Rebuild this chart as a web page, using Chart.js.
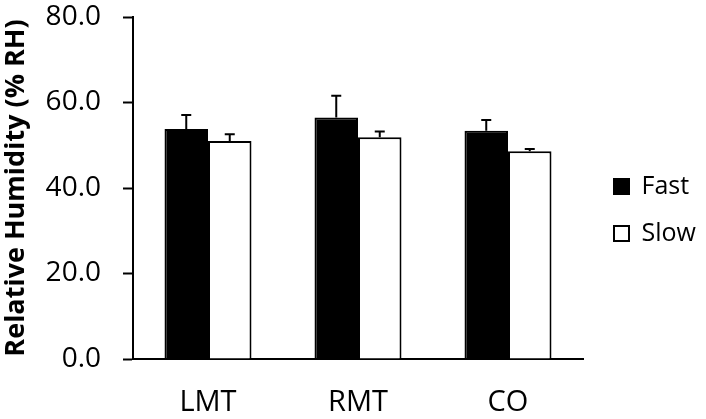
<!DOCTYPE html>
<html>
<head>
<meta charset="utf-8">
<script src="https://cdn.jsdelivr.net/npm/chart.js@4"></script>
<style>
  body { margin: 0; background: #fff; }
  #wrap { width: 706px; height: 419px; }
</style>
</head>
<body>
<div id="wrap"><canvas id="myChart" width="706" height="419"></canvas></div>
<script>
const categories = ["LMT", "RMT", "CO"];
const fastValues = [53.8, 56.5, 53.4];
const fastErrors = [3.3, 5.1, 2.5];
const slowValues = [51.0, 51.9, 48.6];
const slowErrors = [1.6, 1.3, 0.5];
const yTicks = [0, 20, 40, 60, 80];

const FONT = "'Open Sans', 'Noto Sans', sans-serif";

// draws the upper half of each error bar with a small cap
const errorBars = {
  id: "errorBars",
  afterDatasetsDraw(chart) {
    const ctx = chart.ctx;
    const y = chart.scales.y;
    chart.data.datasets.forEach((ds, i) => {
      const meta = chart.getDatasetMeta(i);
      meta.data.forEach((bar, j) => {
        const top = y.getPixelForValue(ds.data[j] + ds.errors[j]);
        ctx.save();
        ctx.strokeStyle = "#000";
        ctx.lineWidth = 2;
        ctx.beginPath();
        ctx.moveTo(bar.x, bar.y);
        ctx.lineTo(bar.x, top);
        ctx.moveTo(bar.x - 5, top);
        ctx.lineTo(bar.x + 5, top);
        ctx.stroke();
        ctx.restore();
      });
    });
  },
};

// keep the plot area the same width as the original
const legendSize = {
  id: "legendSize",
  afterInit(chart) {
    const legend = chart.legend;
    const fit = legend.fit.bind(legend);
    legend.fit = () => {
      fit();
      legend.width = 123;
    };
  },
  afterLayout(chart) {
    chart.legend.left += 9;
    chart.legend.right += 9;
    chart.legend.top -= 8;
    chart.legend.bottom -= 8;
  },
};

const ctx = document.getElementById("myChart").getContext("2d");
const myChart = new Chart(ctx, {
  type: "bar",
  data: {
    labels: categories,
    datasets: [
      {
        label: "Fast",
        data: fastValues,
        errors: fastErrors,
        backgroundColor: "#000",
        borderColor: "#000",
        borderWidth: 2,
        categoryPercentage: 0.58,
        barPercentage: 1,
      },
      {
        label: "Slow",
        data: slowValues,
        errors: slowErrors,
        backgroundColor: "#fff",
        borderColor: "#000",
        borderWidth: 2,
        categoryPercentage: 0.58,
        barPercentage: 1,
      },
    ],
  },
  options: {
    responsive: false,
    animation: false,
    layout: { padding: { top: 17, right: 0, bottom: 0, left: 0 } },
    scales: {
      x: {
        grid: { display: false },
        border: { color: "#000", width: 2 },
        ticks: {
          color: "#000",
          padding: 18,
          font: { family: FONT, size: 29 },
        },
        afterFit(scale) {
          scale.height = 60;
        },
      },
      y: {
        min: 0,
        max: 80,
        afterBuildTicks(scale) {
          scale.ticks = yTicks.map((v) => ({ value: v }));
        },
        grid: {
          drawOnChartArea: false,
          drawTicks: true,
          tickLength: 10,
          tickWidth: 2,
          color: "#000",
        },
        border: { color: "#000", width: 2 },
        ticks: {
          color: "#000",
          padding: 22,
          font: { family: FONT, size: 28 },
          callback: (v) => Number(v).toFixed(1),
        },
        title: {
          display: true,
          text: "Relative Humidity (% RH)",
          color: "#000",
          padding: { top: 0, bottom: 0 },
          font: { family: FONT, size: 27, weight: "bold" },
        },
        afterFit(scale) {
          scale.width = 133;
          scale.paddingTop = 0;
          scale.paddingBottom = 0;
        },
      },
    },
    plugins: {
      legend: {
        display: true,
        position: "right",
        align: "center",
        labels: {
          color: "#000",
          boxWidth: 15,
          boxHeight: 15,
          padding: 22,
          font: { family: FONT, size: 25 },
        },
      },
      tooltip: { enabled: false },
    },
  },
  plugins: [errorBars, legendSize],
});
</script>
</body>
</html>
